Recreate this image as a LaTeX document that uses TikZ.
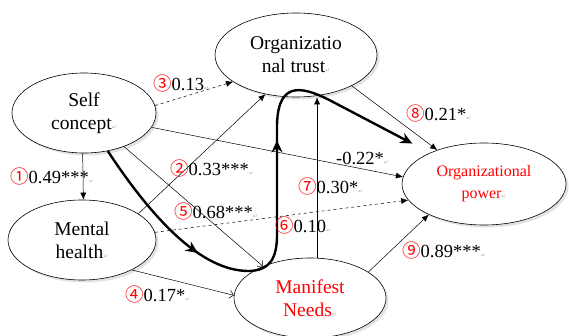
\documentclass[tikz,border=0pt]{standalone}
\usepackage{fontspec}
\setmainfont{Liberation Serif}
\newfontfamily\cjk{Noto Sans CJK SC}
\newfontfamily\dejavu{DejaVu Sans}
\usepackage{xcolor}
\usepackage{tikz}
\usetikzlibrary{arrows.meta,shapes.geometric,shadows,decorations.markings}

\newcommand{\cnum}[1]{{\cjk\color{red}#1}}
\newcommand{\retmark}{{\dejavu\fontsize{6}{6}\selectfont\color{gray!60}↵}}

\begin{document}
\begin{tikzpicture}[x=1pt,y=-1pt,
  factor/.style={ellipse,draw,fill=white,inner sep=0pt,align=center,line width=0.6pt,
    drop shadow={shadow xshift=2.5pt,shadow yshift=-2.5pt,fill=gray!45},
    font=\fontsize{19.5}{23}\selectfont},
  coef/.style={anchor=west,inner sep=0pt,font=\fontsize{18.5}{20}\selectfont},
  link/.style={-{Latex[length=7pt,width=6pt]},line width=0.5pt},
  barb/.style={-{Straight Barb[length=4pt,width=8pt]},line width=0.5pt},
  mainpath/.style={line width=2.4pt,-{Stealth[length=12pt,width=11pt,inset=4pt]},
    postaction={decorate},decoration={markings,
      mark=at position 0.25 with {\arrow{Stealth[length=12pt,width=11pt,inset=4pt]}},
      mark=at position 0.62 with {\arrow{Stealth[length=12pt,width=11pt,inset=4pt]}}}}]
\useasboundingbox (0,0) rectangle (569,336);
\node[factor,minimum width=144pt,minimum height=80pt] (sc) at (84,113) {Self\\concept\retmark};
\node[factor,minimum width=162pt,minimum height=84pt] (ot) at (296,55) {Organizatio\\nal trust\retmark};
\node[factor,minimum width=148pt,minimum height=80pt] (mh) at (82,240) {Mental\\health\retmark};
\node[factor,minimum width=152pt,minimum height=80pt,text=red] (mn) at (310,298) {Manifest\\Needs\retmark};
\node[factor,minimum width=164pt,minimum height=82pt,text=red,font=\fontsize{16}{22}\selectfont] (op) at (484,184) {Organizational\\power\retmark};
% paths
\draw[link] (sc.-92) -- (mh.88);
\draw[link] (mh.25) -- (ot.232);
\draw[link,dashed] (sc.6) -- (ot.203);
\draw[barb] (mh.-31) -- (mn.178);
\draw[barb] (sc.-40) -- (mn.146);
\draw[link,dashed] (mh.6) -- (op.192);
\draw[link] (mn.80) -- (mn.80 |- ot.south);
\draw[link] (ot.-29) -- (op.144);
\draw[link] (mn.24) -- (op.209);
\draw[link] (sc.-12) -- (op.175);
\draw[mainpath,shorten >=20pt] (sc.-58) .. controls (150,215) and (200,272) .. (250,271)
  .. controls (270,270) and (277,258) .. (277,235) -- (277,125)
  .. controls (278,78) and (305,87) .. (335,103) -- (op.150);
% coefficients
\node[coef] (l1) at (10,176) {\cnum{①}0.49***\retmark};
\node[coef] (l2) at (170,168) {\cnum{②}0.33***\retmark};
\node[coef] (l3) at (153,83) {\cnum{③}0.13\retmark};
\node[coef] (l4) at (125,294) {\cnum{④}0.17*\retmark};
\node[coef] (l5) at (174,211) {\cnum{⑤}0.68***\retmark};
\node[coef] (l6) at (275,225) {\cnum{⑥}0.10\retmark};
\node[coef] (l7) at (298,186) {\cnum{⑦}0.30*\retmark};
\node[coef] (l8) at (406,113) {\cnum{⑧}0.21*\retmark};
\node[coef] (l9) at (402,250) {\cnum{⑨}0.89***\retmark};
\node[coef] (l10) at (336,158) {-0.22*\retmark};
\end{tikzpicture}
\end{document}
